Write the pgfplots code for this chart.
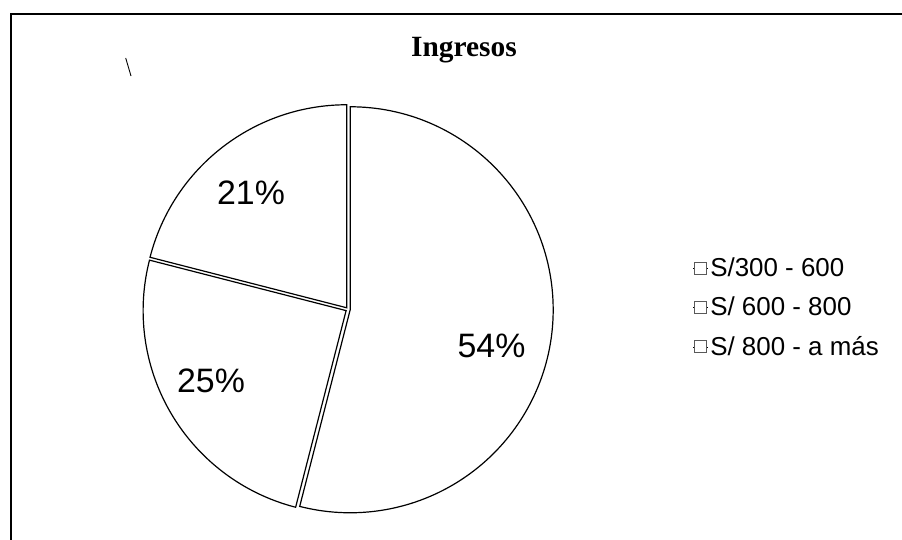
\documentclass[border=0pt]{standalone}
\usepackage{pgfplots}
\pgfplotsset{compat=1.18}
\usepackage{pgfplotstable}
\usepackage{fontspec}
\setmainfont{Liberation Serif}
\newfontfamily\arial{Liberation Sans}

% share (%) and where Excel put each label (px, y up)
\pgfplotstableread[col sep=comma]{
name,pct,lx,ly
S/300 - 600,54,491.5,194.5
S/ 600 - 800,25,211,159
S/ 800 - a más,21,251,347
}\ingresos

\begin{document}
\begin{tikzpicture}
\begin{axis}[
  scale only axis,
  width=902bp, height=540bp,
  xmin=0, xmax=902, ymin=0, ymax=540,
  hide axis, clip=false,
  legend style={at={(0.768,0.4306)}, anchor=west, draw=none, fill=none,
    font=\arial\fontsize{26}{28}\selectfont, row sep=15bp,
    inner sep=0pt},
  legend cell align=left,
  legend image code/.code={%
    \path (-1bp,0bp) -- (14bp,0bp);
    \draw[black!65, line width=1bp, fill=white] (0bp,-6bp) rectangle (12bp,6bp);},
]
% frame (only top and left edges survived the scan)
\draw[line width=1.8bp] (axis cs:11,0) -- (axis cs:11,526) -- (axis cs:902,526);
\draw[line width=0.9bp] (axis cs:125.7,482) -- (axis cs:131,464);
\node[anchor=base, font=\bfseries\fontsize{29.5}{32}\selectfont] at (axis cs:464,483) {Ingresos};

% slices, clockwise from 12 o'clock, slightly exploded
\def\angA{90}
\pgfplotstablegetrowsof{\ingresos}
\pgfmathtruncatemacro\nrows{\pgfplotsretval-1}
\pgfplotsforeachungrouped \i in {0,...,\nrows}{%
  \pgfplotstablegetelem{\i}{pct}\of\ingresos
  \pgfmathsetmacro\angB{\angA-3.6*\pgfplotsretval}
  \pgfmathsetmacro\angM{(\angA+\angB)/2}
  \edef\doslice{\noexpand\draw[black, line width=1.2bp, fill=white, shift={(\angM:2.2bp)}]
    (axis cs:348,230.5) -- ++(\angA:203bp) arc[start angle=\angA, end angle=\angB, radius=203bp] -- cycle;}
  \doslice
  \let\angA\angB
}

\addplot[draw=none, mark=none, forget plot,
  point meta=explicit symbolic,
  nodes near coords={\pgfplotspointmeta\%},
  nodes near coords align=center,
  every node near coord/.append style={font=\arial\fontsize{34}{37}\selectfont, anchor=center}]
  table[x=lx, y=ly, meta=pct] {\ingresos};

\addlegendimage{}
\addlegendentry{S/300 - 600}
\addlegendimage{}
\addlegendentry{S/ 600 - 800}
\addlegendimage{}
\addlegendentry{S/ 800 - a más}
\end{axis}
\pgfresetboundingbox
\path (0,0) rectangle (902bp,540bp);
\end{tikzpicture}
\end{document}
